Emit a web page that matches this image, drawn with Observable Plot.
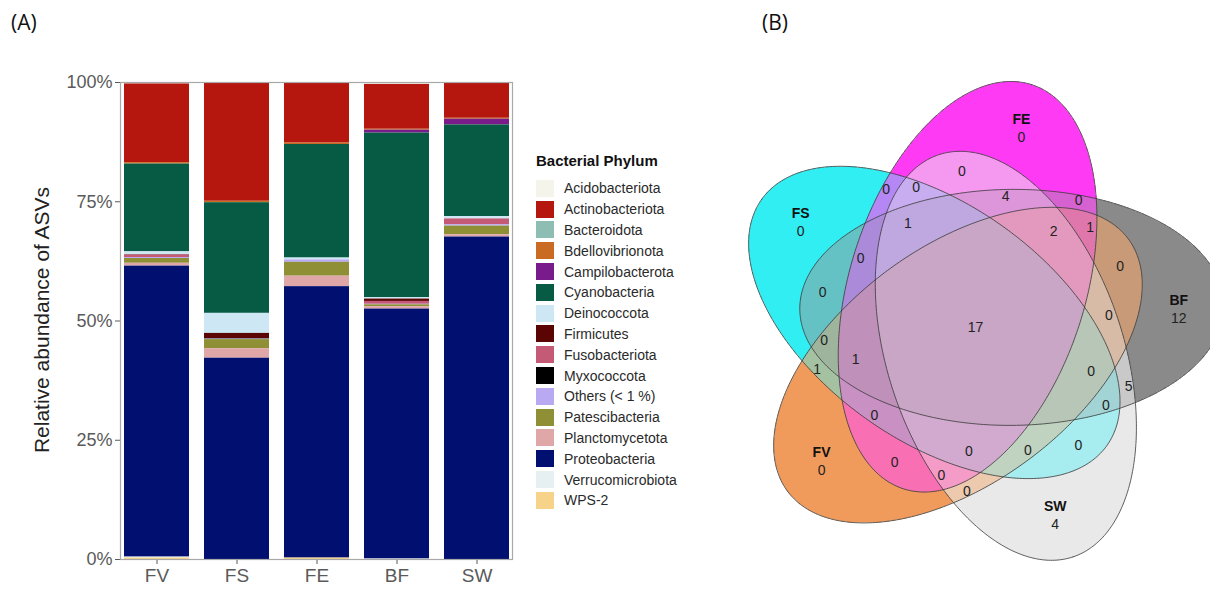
<!DOCTYPE html>
<html><head><meta charset="utf-8">
<script src="https://cdn.jsdelivr.net/npm/d3@7"></script>
<script src="https://cdn.jsdelivr.net/npm/@observablehq/plot@0.6"></script>
<style>
body{margin:0;background:#fff;font-family:Arial,"Liberation Sans",sans-serif;}
#root{position:relative;width:1210px;height:590px;overflow:hidden;background:#fff;}
.abs{position:absolute;}
.panel{font-family:"Open Sans",Arial,sans-serif;font-size:21px;color:#111;}
#bars [aria-label^="x-axis"]{font-size:19px;}
#legend .row{display:flex;align-items:center;height:20.8px;}
#legend .sw{width:18px;height:17px;margin-right:10px;}
#legend .lab{font-size:14px;color:#2a2a2a;white-space:nowrap;}
</style></head><body><div id="root"></div>
<script>
// ---------- Panel A data ----------
const samples = ["FV", "FS", "FE", "BF", "SW"];
const phyla = ["Acidobacteriota","Actinobacteriota","Bacteroidota","Bdellovibrionota","Campilobacterota","Cyanobacteria","Deinococcota","Firmicutes","Fusobacteriota","Myxococcota","Others (< 1 %)","Patescibacteria","Planctomycetota","Proteobacteria","Verrucomicrobiota","WPS-2"];
const phylumColors = ["#F4F4EA","#B5160D","#8DBDB3","#C96B22","#7A1B8C","#075A44","#CDE8F4","#5A0404","#C45A76","#000000","#B9A9F2","#8F8F36","#DFA7A7","#000F70","#E6EFF1","#F7D38A"];
// relative abundance (%) per phylum, in the phyla order above
const FV = [0.3, 16.5, 0, 0.3, 0, 18.4, 0.6, 0.1, 0.5, 0, 0.2, 1.0, 0.6, 61.0, 0.2, 0.3];
const FS = [0, 24.9, 0, 0.3, 0, 23.2, 4.2, 1.1, 0, 0.1, 0.1, 1.9, 2.0, 42.2, 0, 0];
const FE = [0, 12.7, 0, 0.3, 0, 23.8, 0.4, 0, 0, 0, 0.5, 2.9, 2.2, 56.9, 0, 0.3];
const BF = [0.4, 9.4, 0, 0.2, 0.6, 34.5, 0.3, 0.5, 0.6, 0, 0.1, 0.4, 0.5, 52.4, 0.1, 0];
const SW = [0, 7.5, 0, 0.2, 1.2, 19.2, 0.5, 0, 1.2, 0, 0.3, 1.8, 0.5, 67.6, 0, 0];
const yTicks = [0, 25, 50, 75, 100];

// ---------- Panel B data (Venn counts) ----------
const vennSets = ["FE", "BF", "SW", "FV", "FS"];      // clockwise from top
const vennUnique = [0, 12, 4, 0, 0];                  // only in set k
const vennAdjacentPairs = [0, 5, 0, 1, 0];            // k & k+1
const vennSkipPairs = [0, 0, 0, 0, 0];                // k & k+2
const vennRunTriples = [4, 0, 0, 0, 0];               // k & k+1 & k+2
const vennSplitTriples = [1, 0, 0, 0, 0];             // k & k+1 & k+3
const vennQuads = [2, 0, 0, 1, 1];                    // all but k+4
const vennCore = [17];                                // all five

const root = document.getElementById("root");
function addDiv(html, cls, style) {
  const d = document.createElement("div");
  d.className = "abs " + (cls || "");
  d.innerHTML = html;
  Object.assign(d.style, style);
  root.appendChild(d);
  return d;
}

// ---------- Panel A ----------
const sampleValues = [FV, FS, FE, BF, SW];
const rows = [];
samples.forEach((s, i) => phyla.forEach((p, j) => rows.push({sample: s, phylum: p, value: sampleValues[i][j]})));
const bottomUp = phyla.slice().reverse();

const barsPlot = Plot.plot({
  width: 530, height: 530,
  marginLeft: 120, marginRight: 18, marginTop: 22, marginBottom: 31,
  style: {fontFamily: "Arial, 'Liberation Sans', sans-serif", fontSize: "18px", color: "#5a5a5a", background: "transparent"},
  x: {domain: samples, paddingInner: 0.19, paddingOuter: 0.03, label: null, tickSize: 5, tickPadding: 4},
  y: {domain: [0, 100], ticks: yTicks, tickFormat: d => d + "%", label: null, tickSize: 5, tickPadding: 3},
  color: {domain: phyla, range: phylumColors},
  marks: [
    Plot.barY(rows, Plot.stackY({x: "sample", y: "value", fill: "phylum", order: bottomUp})),
    Plot.frame({stroke: "#a8a8a8", strokeWidth: 1.2})
  ]
});
const barsWrap = addDiv("", "", {left: "0px", top: "60px"});
barsWrap.id = "bars";
barsWrap.appendChild(barsPlot);

addDiv("(A)", "panel", {left: "11px", top: "8px"});
addDiv("Relative abundance of ASVs", "", {left: "42px", top: "320px", fontSize: "21px", color: "#222",
  transform: "translate(-50%,-50%) rotate(-90deg)", whiteSpace: "nowrap"});

// legend
const legend = addDiv("", "", {left: "536px", top: "151px"});
legend.id = "legend";
legend.innerHTML = '<div style="font-weight:bold;font-size:15px;color:#111;height:27px;line-height:20px">Bacterial Phylum</div>' +
  phyla.map((p, j) => `<div class="row"><div class="sw" style="background:${phylumColors[j]}"></div><div class="lab">${p.replace("<", "&lt;")}</div></div>`).join("");

// ---------- Panel B ----------
addDiv("(B)", "panel", {left: "762px", top: "8px"});

const rad = Math.PI / 180;
// ellipse layout (screen orientation, y down), 5-fold symmetric
const ellCenterDist = 41.5, ellCenterAngle0 = -101, ellTilt = 28.5, ellA = 212, ellB = 118;
const ellipses = vennSets.map((_, k) => {
  const phi = (ellCenterAngle0 + 72 * k) * rad;
  return {cx: ellCenterDist * Math.cos(phi), cy: ellCenterDist * Math.sin(phi),
          t: (ellCenterAngle0 + 72 * k + ellTilt) * rad, a: ellA, b: ellB};
});
function inside(e, x, y) {
  const dx = x - e.cx, dy = y - e.cy;
  const u = dx * Math.cos(e.t) + dy * Math.sin(e.t);
  const v = -dx * Math.sin(e.t) + dy * Math.cos(e.t);
  return (u / e.a) ** 2 + (v / e.b) ** 2 <= 1;
}
const setRGB = [[255, 58, 245], [138, 138, 138], [233, 233, 233], [240, 155, 92], [48, 238, 242]];
const setWeight = [1.2, 0.7, 1.2, 1.0, 0.75];
function regionColor(x, yData) {
  const y = -yData;
  let r = 0, g = 0, b = 0, n = 0, m = 0;
  ellipses.forEach((e, k) => {
    if (inside(e, x, y)) {
      const w = setWeight[k];
      r += w * setRGB[k][0]; g += w * setRGB[k][1]; b += w * setRGB[k][2]; n += w; m++;
    }
  });
  if (!m) return "rgb(255,255,255)";
  const lift = m > 1 ? 0.06 : 0;
  const f = c => Math.round(c / n * (1 - lift) + 255 * lift);
  return `rgb(${f(r)},${f(g)},${f(b)})`;
}
const outline = [];
ellipses.forEach((e, k) => {
  for (let i = 0; i <= 360; i++) {
    const s = i * rad;
    const x = e.cx + e.a * Math.cos(s) * Math.cos(e.t) - e.b * Math.sin(s) * Math.sin(e.t);
    const y = e.cy + e.a * Math.cos(s) * Math.sin(e.t) + e.b * Math.sin(s) * Math.cos(e.t);
    outline.push({set: vennSets[k], x, y: -y});
  }
});
// label placement templates: [angle offset from set direction, radius]
const labelBase = -77;
const setAngles = vennSets.map((_, k) => labelBase + 72 * k);
const labels = [];
function place(values, off, r) {
  values.forEach((v, k) => {
    const a = (setAngles[k] + off) * rad;
    labels.push({x: r * Math.cos(a), y: -r * Math.sin(a), text: String(v)});
  });
}
place(vennAdjacentPairs, 26, 164);
place(vennSkipPairs, -18, 157);
place(vennRunTriples, 0, 134);
place(vennSplitTriples, 36, 152);
place(vennQuads, 26, 124);
labels.push({x: 0, y: 0, text: String(vennCore[0])});
const singleLabels = vennSets.map((s, k) => {
  const a = setAngles[k] * rad;
  return {x: 204 * Math.cos(a), y: -204 * Math.sin(a), name: s, text: String(vennUnique[k])};
});

const vennMarks = [];
if (typeof Plot.raster === "function") {
  vennMarks.push(Plot.raster({x1: -235, x2: 235, y1: -253, y2: 267, width: 470, height: 520, fill: regionColor, imageRendering: "auto"}));
} else {
  vennSets.forEach((s, k) => vennMarks.push(Plot.line(outline.filter(d => d.set === s), {x: "x", y: "y", fill: `rgb(${setRGB[k].join(",")})`, fillOpacity: 0.45, stroke: "none"})));
}
vennMarks.push(
  Plot.line(outline, {x: "x", y: "y", z: "set", stroke: "#3a3a3a", strokeWidth: 1, strokeOpacity: 0.8}),
  Plot.text(labels, {x: "x", y: "y", text: "text", fontSize: 14, fill: "#222"}),
  Plot.text(singleLabels, {x: "x", y: "y", text: "name", dy: -9, fontSize: 14, fontWeight: "bold", fill: "#111"}),
  Plot.text(singleLabels, {x: "x", y: "y", text: "text", dy: 9, fontSize: 14, fill: "#222"})
);
const vennPlot = Plot.plot({
  width: 470, height: 520,
  marginLeft: 0, marginRight: 0, marginTop: 0, marginBottom: 0,
  x: {domain: [-235, 235], axis: null},
  y: {domain: [-253, 267], axis: null},
  color: {type: "identity"},
  style: {fontFamily: "Arial, 'Liberation Sans', sans-serif", background: "transparent", overflow: "hidden"},
  marks: vennMarks
});
const vennWrap = addDiv("", "", {left: "740px", top: "60px"});
vennWrap.appendChild(vennPlot);
</script></body></html>
